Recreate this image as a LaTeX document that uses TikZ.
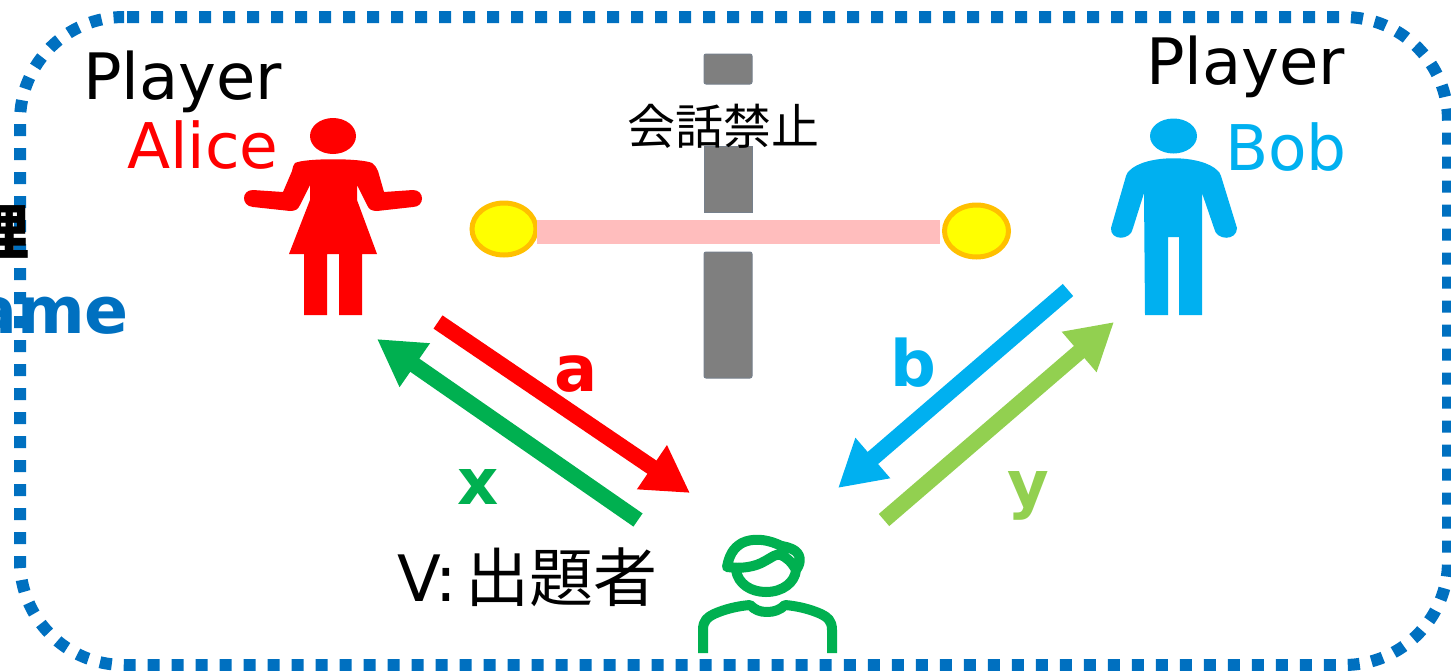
\documentclass[tikz,border=0pt]{standalone}
\usepackage{fontspec}
\setmainfont{DejaVu Sans}
\newfontfamily\cjkf{Noto Sans CJK JP}
\usetikzlibrary{arrows.meta,shapes.geometric}
\definecolor{fblue}{HTML}{0070C0}
\definecolor{sky}{HTML}{00B0F0}
\definecolor{dgreen}{HTML}{00B050}
\definecolor{lgreen}{HTML}{92D050}
\definecolor{pinkbar}{HTML}{FFBDBD}
\definecolor{amberc}{HTML}{FFC000}
\definecolor{ballfill}{HTML}{FFFF00}
\definecolor{redc}{HTML}{FF0000}
\definecolor{barg}{HTML}{7F7F7F}
\definecolor{bare}{HTML}{76808C}
\tikzset{
  every node/.style={inner sep=0pt,outer sep=0pt},
  bigtext/.style={font=\fontsize{32}{38}\selectfont,anchor=base west},
  letter/.style={font=\fontsize{32}{38}\selectfont\bfseries,anchor=base},
  flow/.style={line width=8pt,-{Triangle[length=23pt,width=25pt]}},
  barpart/.style={fill=barg,draw=bare,line width=0.5pt},
  endball/.style={ellipse,fill=ballfill,draw=amberc,line width=2.5pt,minimum width=32pt,minimum height=26pt},
}
\begin{document}
\begin{tikzpicture}[x=0.5pt,y=-0.5pt]
\useasboundingbox (0,0) rectangle (1451,670);
\clip (0,0) rectangle (1451,670);
% frame
\draw[fblue,line width=6pt,dash pattern=on 6pt off 6pt,rounded corners=52pt]
  (127,17) -- (1448,17) -- (1448,665) -- (20,665) -- (20,17) -- (116,17);
\node[font=\cjkf\fontsize{30}{34}\selectfont\bfseries,anchor=east] (ri) at (30,232) {理};
\node[font=\fontsize{32.5}{38}\selectfont\bfseries,text=fblue,anchor=base east] (game) at (129,333) {ame};
% gray bar
\draw[barpart,rounded corners=1pt] (704,84) -- (704,54) -- (752,54) -- (752,84) -- cycle;
\draw[barpart] (704,146) rectangle (752,212);
\draw[barpart,rounded corners=1pt] (704,252) -- (704,378) -- (752,378) -- (752,252) -- cycle;
\node[font=\cjkf\fontsize{24}{28}\selectfont] (ban) at (723,126) {会話禁止};
% link
\node[endball] (ballA) at (504,229) {};
\node[endball] (ballB) at (976.5,231) {};
\path (ballA.east) ++(1,3) coordinate (pa) (ballB.west) ++(-5,1) coordinate (pb);
\draw[pinkbar,line width=12pt] (pa) -- (pb);
% texts
\node[bigtext] (p1) at (83,99) {Player};
\node[bigtext,text=redc,font=\fontsize{31.5}{38}\selectfont] (alice) at (127,168) {Alice};
\node[bigtext] (p2) at (1146,84) {Player};
\node[bigtext,text=sky,font=\fontsize{31.5}{38}\selectfont] (bob) at (1225,170) {Bob};
\node[bigtext] (v) at (397,601) {V:\hspace{4pt}{\cjkf\fontsize{32}{38}\selectfont 出題者}};
% Alice
\fill[redc] (333,136) ellipse [x radius=23,y radius=18];
\fill[redc] (295,163) .. controls (305,158) and (361,158) .. (372,163)
  .. controls (375,165) and (376,167) .. (378,171) -- (384,192) -- (413,190)
  .. controls (425,190) and (425,207) .. (413,207)
  -- (377,211) .. controls (371,211) and (369,209) .. (367,205)
  -- (357,185) -- (357,200) -- (377,254) -- (362,254) -- (362,315) -- (339,315)
  -- (339,254) -- (327,254) -- (327,315) -- (304,315) -- (304,254) -- (289,254)
  -- (310,200) -- (310,185) -- (300,205)
  .. controls (298,209) and (296,211) .. (290,211)
  -- (253,207) .. controls (241,206) and (241,190) .. (253,190)
  -- (283,192) -- (292,171) .. controls (293,167) and (293,165) .. (295,163) -- cycle;
% Bob
\fill[sky] (1173.5,136) ellipse [x radius=23.5,y radius=17.5];
\fill[sky] (1129,171) .. controls (1145,154) and (1202,154) .. (1218,171)
  .. controls (1219,172) and (1220,173) .. (1221,176) -- (1237,228)
  .. controls (1237,241) and (1216,241) .. (1214,228) -- (1202,193) -- (1202,315)
  -- (1179,315) -- (1179,237) -- (1168,237) -- (1168,315) -- (1145,315) -- (1144,193)
  -- (1133,228) .. controls (1131,241) and (1110,241) .. (1111,228) -- (1126,176)
  .. controls (1127,173) and (1128,172) .. (1129,171) -- cycle;
% V
\draw[dgreen,line width=5pt,line join=round]
  (703,653) -- (703,630) .. controls (703,620) and (708,617) .. (714,614)
  .. controls (725,609) and (738,606) .. (750,605)
  .. controls (755,610) and (760,612) .. (767,612)
  .. controls (774,612) and (780,610) .. (785,605)
  .. controls (797,606) and (810,609) .. (821,614)
  .. controls (827,617) and (832,620) .. (832,630) -- (832,653);
\draw[dgreen,line width=5pt,line join=round,line cap=round]
  (736,570) .. controls (738,584) and (751,592) .. (766,592)
  .. controls (783,592) and (795,582) .. (796,570)
  .. controls (802,562) and (801,553) .. (792,549)
  .. controls (786,546) and (782,547) .. (777,544)
  .. controls (765,539) and (752,538) .. (742,543)
  .. controls (733,548) and (729,556) .. (727,567)
  .. controls (742,569) and (755,567) .. (765,561)
  .. controls (771,558) and (776,553) .. (781,555)
  .. controls (786,557) and (792,562) .. (796,570);
% arrows
\coordinate (as) at (438,322); \coordinate (ae) at (690,493);
\coordinate (xs) at (638,520); \coordinate (xe) at (377,339);
\coordinate (bs) at (1068,290); \coordinate (be) at (838,488);
\coordinate (ys) at (884,520); \coordinate (ye) at (1114,322);
\draw[flow,redc] (as) -- (ae);
\draw[flow,dgreen] (xs) -- (xe);
\draw[flow,sky] (bs) -- (be);
\draw[flow,lgreen] (ys) -- (ye);
\node[letter,text=redc] (la) at (576,391) {a};
\node[letter,text=dgreen] (lx) at (478,504) {x};
\node[letter,text=sky] (lb) at (913,386) {b};
\node[letter,text=lgreen] (ly) at (1028,506) {y};
\end{tikzpicture}
\end{document}
